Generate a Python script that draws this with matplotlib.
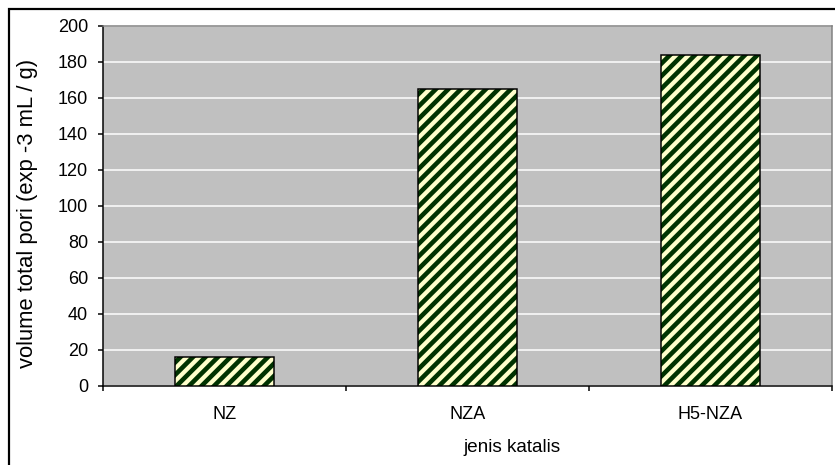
import matplotlib
matplotlib.use("Agg")
import matplotlib.pyplot as plt
from matplotlib.patches import Rectangle

categories = ["NZ", "NZA", "H5-NZA"]
values = [16, 165, 184]
yticks = [0, 20, 40, 60, 80, 100, 120, 140, 160, 180, 200]

DPI = 150
W, H = 835, 465
plt.rcParams["font.family"] = ["Liberation Sans", "DejaVu Sans"]
plt.rcParams["hatch.linewidth"] = 2.2

fig = plt.figure(figsize=(W / DPI, H / DPI), dpi=DPI)
ax = fig.add_axes([103 / W, 1 - 386 / H, (832 - 103) / W, (386 - 26) / H])
ax.set_facecolor("#C0C0C0")

px = 72 / DPI  # one pixel in points
fs = 18 * px

x = list(range(len(categories)))
bw = 0.407
ax.bar(x, values, width=bw, color="#FFFFCC", edgecolor="#003300",
       hatch="////", linewidth=0, zorder=3)
ax.bar(x, values, width=bw, fill=False, edgecolor="black",
       linewidth=1.5 * px, zorder=4)

ax.set_xlim(-0.5, 2.5)
ax.set_ylim(0, 200)
ax.set_yticks(yticks)
ax.set_yticklabels([str(v) for v in yticks], fontsize=fs)
ax.yaxis.grid(True, color="white", linewidth=1.5 * px, zorder=1)
ax.set_axisbelow(True)

ax.set_xticks([-0.5, 0.5, 1.5, 2.5])
ax.set_xticklabels([])
ax.set_xticks(x, categories, minor=True)
ax.tick_params(axis="x", which="minor", length=0, pad=20 * px, labelsize=fs)
ax.tick_params(axis="x", which="major", direction="out", length=5 * px,
               width=1.5 * px)
ax.tick_params(axis="y", direction="out", length=5 * px, width=1.5 * px,
               pad=10 * px)

for s in ("left", "bottom"):
    ax.spines[s].set_color("black")
    ax.spines[s].set_linewidth(1.5 * px)
for s in ("top", "right"):
    ax.spines[s].set_color("#808080")
    ax.spines[s].set_linewidth(1.5 * px)

fig.text(512 / W, 1 - 447 / H, "jenis katalis", ha="center", va="center",
         fontsize=19 * px)
fig.text(28 / W, 1 - 213 / H, "volume total pori (exp -3 mL / g)",
         rotation=90, ha="center", va="center", fontsize=22 * px)

fig.patches.append(Rectangle((9 / W, -0.5), 2, (1 - 9 / H) + 0.5,
                             transform=fig.transFigure, fill=False,
                             edgecolor="black", linewidth=2.2 * px,
                             clip_on=False))

fig.savefig("out.png", dpi=DPI)
